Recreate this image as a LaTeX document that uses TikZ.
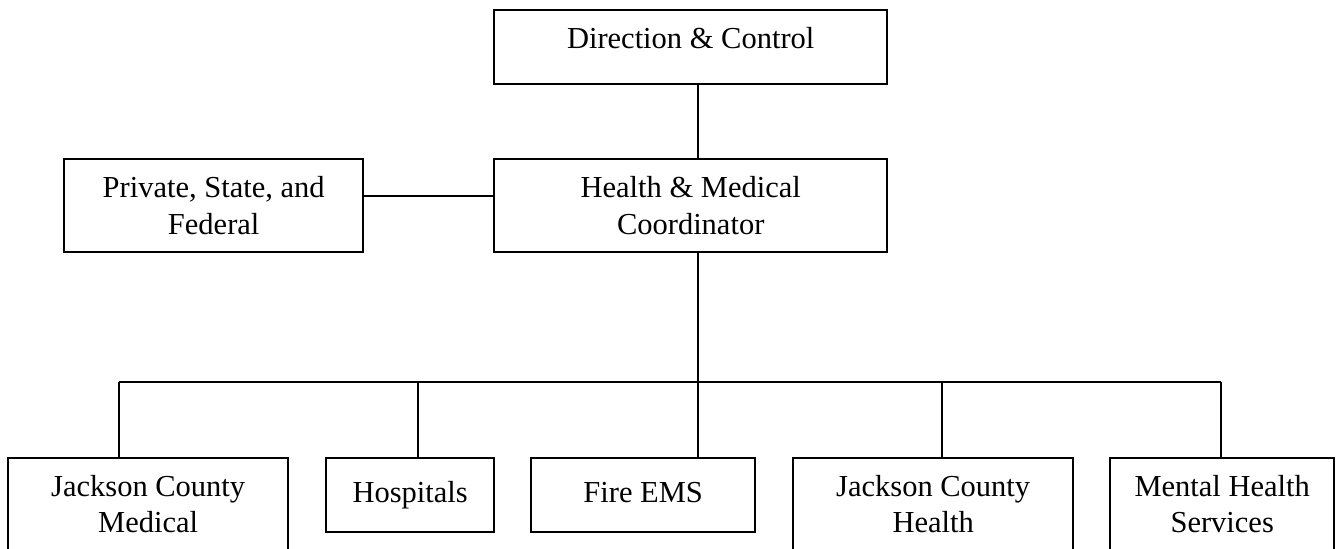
\documentclass[tikz,border=0pt]{standalone}
\usepackage{fontspec}
\setmainfont{Liberation Serif}
\usetikzlibrary{calc}
\begin{document}
\begin{tikzpicture}[x=0.5pt,y=-0.5pt,
  box/.style={draw, line width=1.2pt, inner sep=0pt, anchor=north west},
  wire/.style={line width=1pt},
  lbl/.style={anchor=base, inner sep=0pt, font=\fontsize{15.25pt}{18.5pt}\selectfont}]
\useasboundingbox (0,0) rectangle (1340,549);

% boxes
\node[box, minimum width=196.5pt, minimum height=37pt]   (dc)   at (493,9)    {};
\node[box, minimum width=196.5pt, minimum height=46.5pt] (hm)   at (493,158)  {};
\node[box, minimum width=149.5pt, minimum height=46.5pt] (psf)  at (63,158)   {};
\node[box, minimum width=140pt,   minimum height=47pt]   (jcm)  at (7,457)    {};
\node[box, minimum width=84pt,    minimum height=37pt]   (hosp) at (325,457)  {};
\node[box, minimum width=112pt,   minimum height=37pt]   (fire) at (530,457)  {};
\node[box, minimum width=140pt,   minimum height=47pt]   (jch)  at (792,457)  {};
\node[box, minimum width=112pt,   minimum height=47pt]   (mhs)  at (1109,457) {};

% labels
\node[lbl] (dc-t)   at ($(dc.north)+(0,40)$)   {Direction \& Control};
\node[lbl] (hm-t1)  at ($(hm.north)+(0,40)$)   {Health \& Medical};
\node[lbl] (hm-t2)  at ($(hm.north)+(0,77)$)   {Coordinator};
\node[lbl] (psf-t1) at ($(psf.north)+(0,40)$)  {Private, State, and};
\node[lbl] (psf-t2) at ($(psf.north)+(0,77)$)  {Federal};
\node[lbl] (jcm-t1) at ($(jcm.north)+(0,39.5)$) {Jackson County};
\node[lbl] (jcm-t2) at ($(jcm.north)+(0,76)$)  {Medical};
\node[lbl] (hosp-t) at ($(hosp.north)+(0,46)$) {Hospitals};
\node[lbl] (fire-t) at ($(fire.north)+(0,46)$) {Fire EMS};
\node[lbl] (jch-t1) at ($(jch.north)+(0,39.5)$) {Jackson County};
\node[lbl] (jch-t2) at ($(jch.north)+(0,76)$)  {Health};
\node[lbl] (mhs-t1) at ($(mhs.north)+(0,39.5)$) {Mental Health};
\node[lbl] (mhs-t2) at ($(mhs.north)+(0,76)$)  {Services};

% connectors
\coordinate (side) at (0,196);
\coordinate (d1) at (119,382);
\coordinate (d2) at (418,382);
\coordinate (d3) at (698,382);
\coordinate (d4) at (942,382);
\coordinate (d5) at (1221,382);

\draw[wire] (dc.south -| d3) -- (hm.north -| d3);
\draw[wire] (psf.east |- side) -- (hm.west |- side);
\draw[wire] (hm.south -| d3) -- (d3 |- fire.north);
\draw[wire] (d1) -- (d5);
\draw[wire] (d1) -- (d1 |- jcm.north);
\draw[wire] (d2) -- (d2 |- hosp.north);
\draw[wire] (d4) -- (d4 |- jch.north);
\draw[wire] (d5) -- (d5 |- mhs.north);
\end{tikzpicture}
\end{document}
